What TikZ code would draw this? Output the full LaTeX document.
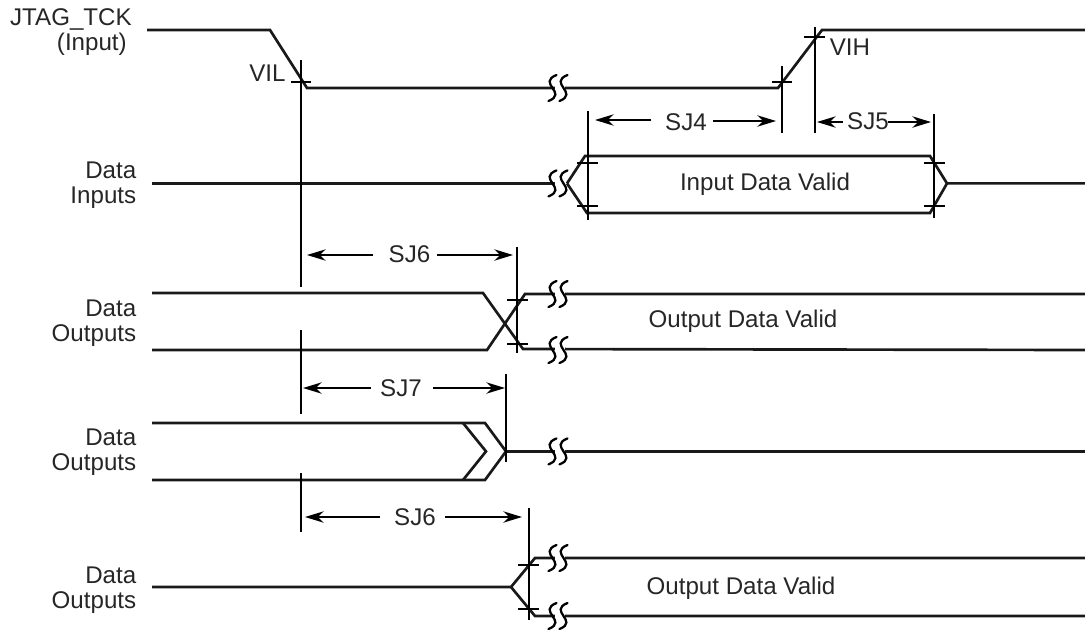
\documentclass[tikz,border=0pt]{standalone}
\usepackage{fontspec}
\setmainfont{Liberation Sans}
\usetikzlibrary{arrows.meta}
\tikzset{
  wave/.style={line width=2pt,line join=miter,black!90},
  guide/.style={line width=1.3pt,black},
  tick/.style={line width=1.3pt,black},
  dim/.style={line width=1.3pt,black,-{Stealth[length=14pt,width=8.5pt,inset=4.5pt]}},
  lab/.style={font=\fontsize{18.1pt}{19pt}\selectfont,inner sep=0pt,text=black!85},
  side/.style={lab,align=right,anchor=east},
  pics/squiggle/.style={code={
    \fill[white] (-3.5,-5) rectangle (7,5);
    \foreach \d in {-5.5,5.5}{
      \draw[line width=1.7pt,line cap=round,black] (\d+4,-13) .. controls (\d-16,-5) and (\d+16,5) .. (\d-4,13);
    }
  }}
}
\begin{document}
\begin{tikzpicture}[x=0.75pt,y=-0.75pt]
\useasboundingbox (0,0) rectangle (1085,629);
% side labels
\node[lab,anchor=base east] (tck) at (132,25) {JTAG\_TCK};
\node[lab,anchor=base east] (tckb) at (127,50) {(Input)};
\node[side] (din) at (136.5,185) {Data\\Inputs};
\node[side] (do1) at (136.5,323) {Data\\Outputs};
\node[side] (do2) at (136.5,452) {Data\\Outputs};
\node[side] (do3) at (136.5,590) {Data\\Outputs};
% JTAG_TCK
\draw[wave] (147,30) -- (270,30) -- (307,88) -- (778,88) -- (822,30) -- (1085,30);
\pic at (558,88) {squiggle};
\node[lab] (vil) at (267.5,73) {VIL};
\node[lab] (vih) at (850,47) {VIH};
% Data Inputs
\draw[wave] (152,183.4) -- (560,183.4);
\draw[wave] (567,183.4) -- (585,156) -- (930,156) -- (947,183.4) -- (1085,183.4);
\draw[wave] (567,183.4) -- (587,213) -- (930,213) -- (947,183.4);
\pic at (558,183.4) {squiggle};
\node[lab] (idv) at (765,184) {Input Data Valid};
% Data Outputs 1
\draw[wave] (152,293) -- (483,293) -- (523,349) -- (1085,350);
\draw[wave] (152,350) -- (487,350) -- (525,294) -- (1085,294);
\pic at (558,294) {squiggle};
\pic at (558,350) {squiggle};
\node[lab] (odv1) at (743,321) {Output Data Valid};
% Data Outputs 2
\draw[wave] (152,423) -- (485,423) -- (506,451.4) -- (485,480) -- (152,480);
\draw[wave] (463,423) -- (486,451.4) -- (463,480);
\draw[wave] (506,451.4) -- (1085,451.4);
\pic at (558,451.4) {squiggle};
% Data Outputs 3
\draw[wave] (152,587) -- (511,587) -- (535,558) -- (1085,558);
\draw[wave] (511,587) -- (535,616) -- (1085,616);
\pic at (558,558) {squiggle};
\pic at (558,616) {squiggle};
\node[lab] (odv3) at (741,588) {Output Data Valid};
% guide lines
\draw[guide] (301,60) -- (301,287);
\draw[guide] (301,330) -- (301,414);
\draw[guide] (301,473) -- (301,532);
\draw[guide] (782,66) -- (782,133);
\draw[guide] (815,27) -- (815,133);
\draw[guide] (588,111) -- (588,220);
\draw[guide] (934,114) -- (934,218);
\draw[guide] (517,247) -- (517,353);
\draw[guide] (506,374) -- (506,462);
\draw[guide] (529,508) -- (529,620);
% ticks
\draw[tick] (291,82) -- (311,82);
\draw[tick] (772,82) -- (792,82);
\draw[tick] (804,37) -- (825,37);
\draw[tick] (577,163) -- (598,163);
\draw[tick] (577,206) -- (598,206);
\draw[tick] (924,163) -- (945,163);
\draw[tick] (924,206) -- (945,206);
\draw[tick] (507,300) -- (528,300);
\draw[tick] (507,344) -- (528,344);
\draw[tick] (518,565) -- (539,565);
\draw[tick] (518,609) -- (539,609);
% dimensions
\node[lab] (sj4) at (686,122) {SJ4};
\draw[dim] (651,120) -- (595,120);
\draw[dim] (713,121) -- (776,121);
\node[lab] (sj5) at (868,121) {SJ5};
\draw[dim] (843,122) -- (817,122);
\draw[dim] (888,122) -- (931,122);
\node[lab] (sj6a) at (409.5,254) {SJ6};
\draw[dim] (373,255) -- (307,255);
\draw[dim] (437,255) -- (513,255);
\node[lab] (sj7) at (401,388) {SJ7};
\draw[dim] (371,388) -- (303,388);
\draw[dim] (433,388) -- (505,388);
\node[lab] (sj6b) at (415,517) {SJ6};
\draw[dim] (380,517) -- (305,517);
\draw[dim] (445,517) -- (522,517);
\end{tikzpicture}
\end{document}
